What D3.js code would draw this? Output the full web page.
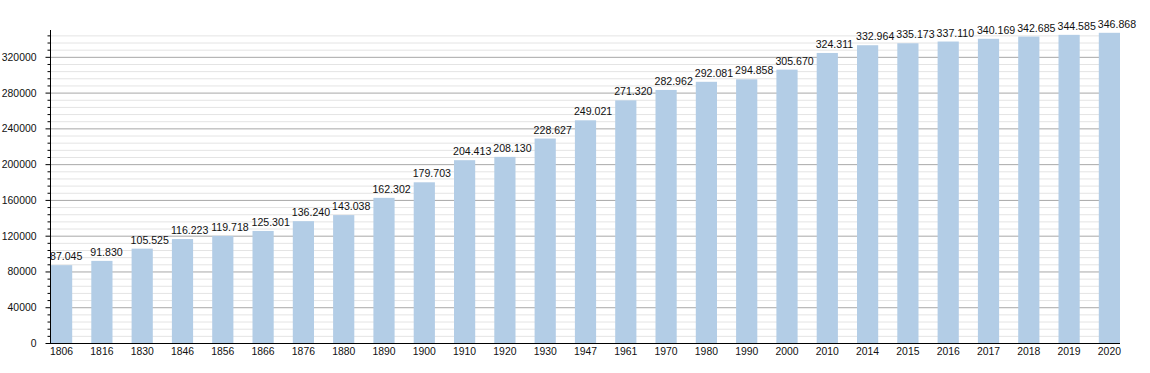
<!DOCTYPE html>
<html>
<head>
<meta charset="utf-8">
<script src="https://cdn.jsdelivr.net/npm/d3@7"></script>
<style>
  body { margin: 0; background: #fff; }
  svg text { font-family: "Liberation Sans", Arial, sans-serif; }
</style>
</head>
<body>
<svg id="chart" width="1150" height="373"></svg>
<script>
const years = ["1806", "1816", "1830", "1846", "1856", "1866", "1876", "1880", "1890",
  "1900", "1910", "1920", "1930", "1947", "1961", "1970", "1980", "1990", "2000",
  "2010", "2014", "2015", "2016", "2017", "2018", "2019", "2020"];
const population = [87045, 91830, 105525, 116223, 119718, 125301, 136240, 143038, 162302,
  179703, 204413, 208130, 228627, 249021, 271320, 282962, 292081, 294858, 305670,
  324311, 332964, 335173, 337110, 340169, 342685, 344585, 346868];
const majorTicks = [0, 40000, 80000, 120000, 160000, 200000, 240000, 280000, 320000];

const svg = d3.select("#chart");
const plotLeft = 50, plotRight = 1120, plotTop = 30, plotBottom = 343;

const x = d3.scaleBand()
  .domain(years)
  .range([plotLeft + 1, plotRight])
  .paddingInner(0.474)
  .paddingOuter(0);

const y = d3.scaleLinear()
  .domain([0, 350000])
  .range([plotBottom, plotTop]);

const minorTicks = d3.range(0, 350001, 8000).filter(function (d) {
  return majorTicks.indexOf(d) < 0;
});

// gridlines
svg.append("g")
  .selectAll("line")
  .data(minorTicks)
  .join("line")
  .attr("x1", plotLeft).attr("x2", plotRight)
  .attr("y1", d => y(d) + 0.5).attr("y2", d => y(d) + 0.5)
  .style("stroke", "#e4e4e4");

svg.append("g")
  .selectAll("line")
  .data(majorTicks.filter(d => d > 0))
  .join("line")
  .attr("x1", plotLeft).attr("x2", plotRight)
  .attr("y1", d => y(d) + 0.5).attr("y2", d => y(d) + 0.5)
  .style("stroke", "#a8a8a8");

// bars
svg.append("g")
  .selectAll("rect")
  .data(population)
  .join("rect")
  .attr("x", (d, i) => x(years[i]))
  .attr("width", x.bandwidth())
  .attr("y", d => y(d))
  .attr("height", d => plotBottom - y(d))
  .attr("fill", "#b3cde6");

// value labels, left aligned on the bar
const fmt = d => d3.format(",")(d).replace(",", ".");
svg.append("g")
  .selectAll("text")
  .data(population)
  .join("text")
  .attr("x", (d, i) => x(years[i]) - 1)
  .attr("y", d => y(d) - 5)
  .attr("text-anchor", "start")
  .attr("font-size", 10.6)
  .attr("fill", "#111")
  .text(fmt);

// y axis
const yAxis = svg.append("g").attr("transform", "translate(" + (plotLeft + 0.5) + ",0)");
yAxis.append("line")
  .attr("x1", 0).attr("x2", 0)
  .attr("y1", plotTop).attr("y2", plotBottom + 1)
  .style("stroke", "#000");
yAxis.selectAll(".minor")
  .data(minorTicks)
  .join("line")
  .attr("class", "minor")
  .attr("x1", -3).attr("x2", 0)
  .attr("y1", d => y(d) + 0.5).attr("y2", d => y(d) + 0.5)
  .style("stroke", "#000");
yAxis.selectAll(".major")
  .data(majorTicks)
  .join("line")
  .attr("class", "major")
  .attr("x1", -5).attr("x2", 0)
  .attr("y1", d => y(d) + 0.5).attr("y2", d => y(d) + 0.5)
  .style("stroke", "#000");
yAxis.selectAll("text")
  .data(majorTicks)
  .join("text")
  .attr("x", -14)
  .attr("y", d => y(d) + 4)
  .attr("text-anchor", "end")
  .attr("font-size", 10.4)
  .attr("fill", "#111")
  .text(d => d);

// x axis
svg.append("line")
  .attr("x1", plotLeft).attr("x2", plotRight)
  .attr("y1", plotBottom + 0.5).attr("y2", plotBottom + 0.5)
  .style("stroke", "#000");
svg.append("g")
  .selectAll("text")
  .data(years)
  .join("text")
  .attr("x", d => x(d) + x.bandwidth() / 2)
  .attr("y", plotBottom + 12)
  .attr("text-anchor", "middle")
  .attr("font-size", 10.4)
  .attr("fill", "#111")
  .text(d => d);
</script>
</body>
</html>
